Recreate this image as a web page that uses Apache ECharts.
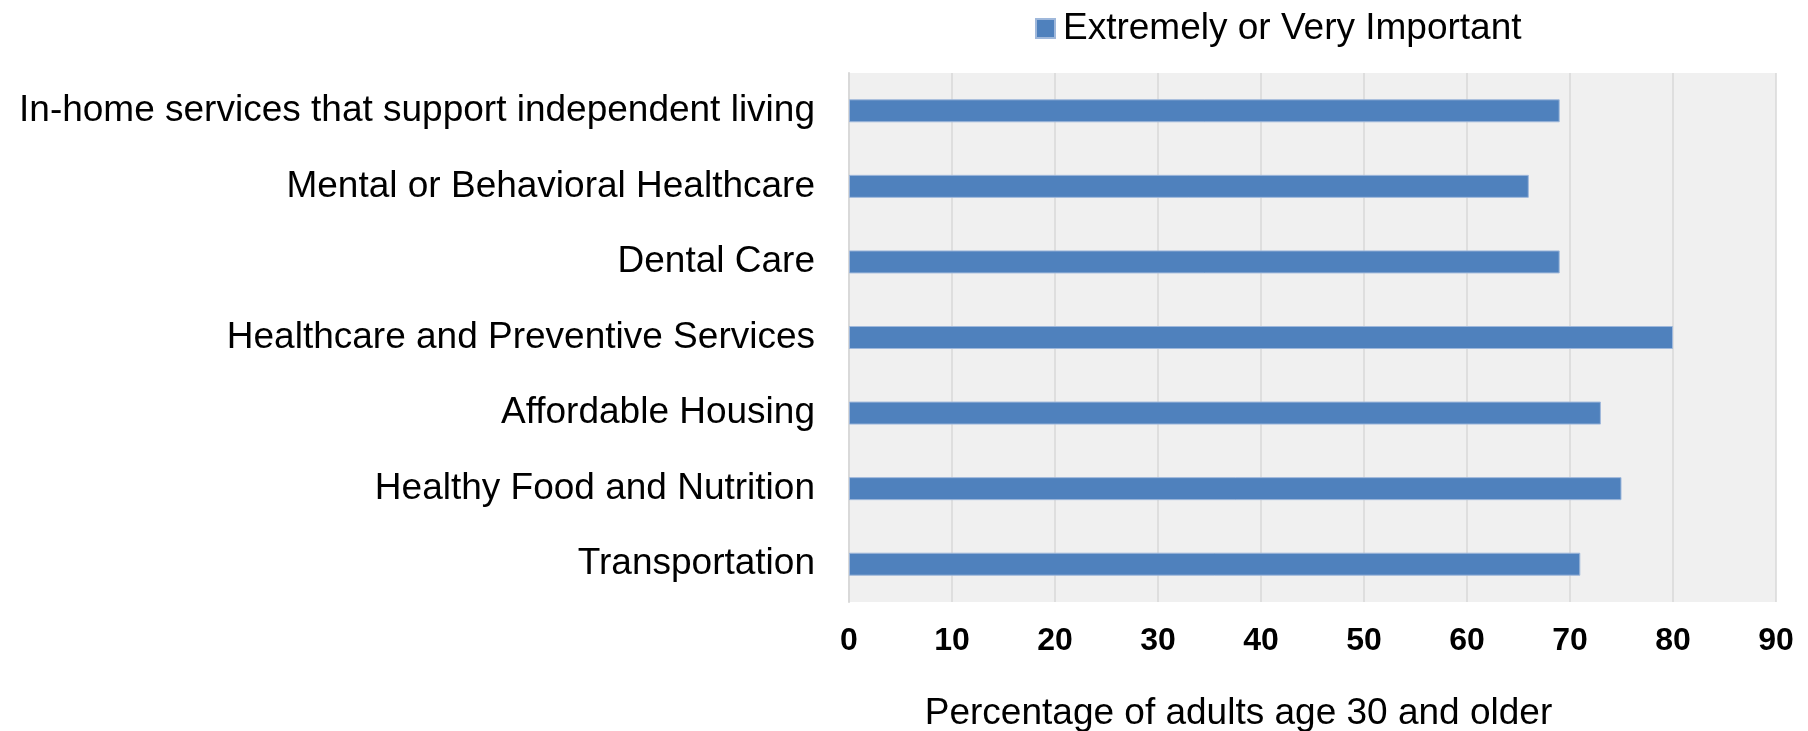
<!DOCTYPE html>
<html>
<head>
<meta charset="utf-8">
<script src="https://cdn.jsdelivr.net/npm/echarts@6/dist/echarts.min.js"></script>
<style>
  html, body { margin: 0; padding: 0; background: #ffffff; }
  #chart { width: 1808px; height: 731px; }
</style>
</head>
<body>
<div id="chart"></div>
<script>
// Services, listed bottom-to-top as the category axis draws them
const categories = [
  'Transportation',
  'Healthy Food and Nutrition',
  'Affordable Housing',
  'Healthcare and Preventive Services',
  'Dental Care',
  'Mental or Behavioral Healthcare',
  'In-home services that support independent living'
];
// Share rating each service extremely or very important (%)
const importantValues = [71, 75, 73, 80, 69, 66, 69];
const seriesName = 'Extremely or Very Important';
const axisTitle = 'Percentage of adults age 30 and older';
const axisMin = 0;
const axisMax = 90;
const axisStep = 10;

const FONT = '"Liberation Sans", Arial, Helvetica, sans-serif';

const chart = echarts.init(document.getElementById('chart'), null, { renderer: 'canvas' });

chart.setOption({
  animation: false,
  backgroundColor: '#ffffff',
  textStyle: { fontFamily: FONT },
  legend: {
    data: [seriesName],
    left: 1030,
    top: 5,
    icon: 'rect',
    itemWidth: 19,
    itemHeight: 19,
    textStyle: { fontFamily: FONT, fontSize: 37, color: '#000000', padding: [0, 0, 0, 3] }
  },
  grid: {
    left: 849,
    right: 32,
    top: 73,
    bottom: 129,
    show: true,
    backgroundColor: '#f0f0f0',
    borderWidth: 0,
    containLabel: false,
    outerBoundsMode: 'none'
  },
  xAxis: {
    type: 'value',
    min: axisMin,
    max: axisMax,
    interval: axisStep,
    name: axisTitle,
    nameLocation: 'middle',
    nameGap: 93,
    nameTextStyle: {
      fontFamily: FONT,
      fontSize: 37,
      color: '#000000',
      padding: [0, 148, 0, 0]
    },
    axisLine: { show: false },
    axisTick: { show: false },
    axisLabel: {
      fontFamily: FONT,
      fontSize: 32,
      fontWeight: 'bold',
      color: '#000000',
      margin: 23
    },
    splitLine: { show: true, lineStyle: { color: '#d9d9d9', width: 1.5 } }
  },
  yAxis: {
    type: 'category',
    data: categories,
    axisLine: { show: true, lineStyle: { color: '#d9d9d9', width: 2 } },
    axisTick: { show: false },
    axisLabel: {
      fontFamily: FONT,
      fontSize: 37,
      color: '#000000',
      margin: 34,
      padding: [7, 0, 0, 0]
    },
    splitLine: { show: false }
  },
  series: [{
    name: seriesName,
    type: 'bar',
    data: importantValues,
    barWidth: 23,
    itemStyle: {
      color: '#4f81bd',
      borderColor: '#9fb8db',
      borderWidth: 1
    }
  }]
});
</script>
</body>
</html>
